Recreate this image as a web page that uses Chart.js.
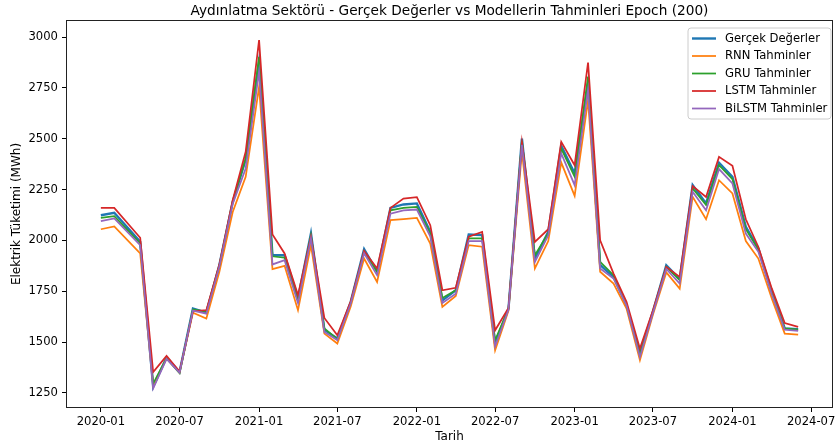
<!DOCTYPE html>
<html>
<head>
<meta charset="utf-8">
<script src="https://cdn.jsdelivr.net/npm/chart.js@4"></script>
<style>
  body { margin: 0; background: #fff; }
  canvas { display: block; }
</style>
</head>
<body>
<canvas id="chart" width="839" height="446"></canvas>
<script>
// months (note: 2020-03 is missing in the source data)
const months = [
  "2020-01","2020-02","2020-04","2020-05","2020-06","2020-07","2020-08","2020-09","2020-10","2020-11","2020-12",
  "2021-01","2021-02","2021-03","2021-04","2021-05","2021-06","2021-07","2021-08","2021-09","2021-10","2021-11","2021-12",
  "2022-01","2022-02","2022-03","2022-04","2022-05","2022-06","2022-07","2022-08","2022-09","2022-10","2022-11","2022-12",
  "2023-01","2023-02","2023-03","2023-04","2023-05","2023-06","2023-07","2023-08","2023-09","2023-10","2023-11","2023-12",
  "2024-01","2024-02","2024-03","2024-04","2024-05","2024-06"
];

const actual = [2124,2136,1993,1280,1425,1353,1665,1645,1878,2190,2398,
  2880,1927,1927,1715,2034,1560,1518,1698,1957,1846,2160,2177,
  2182,2042,1705,1755,2029,2026,1493,1665,2501,1910,2042,2465,
  2329,2772,1880,1820,1682,1443,1650,1878,1810,2272,2182,2382,
  2313,2067,1960,1748,1567,1563];

const rnn = [2055,2069,1936,1288,1420,1350,1645,1616,1845,2140,2313,
  2755,1859,1875,1657,1977,1542,1493,1675,1911,1796,2100,2105,
  2111,1985,1673,1727,1977,1969,1460,1655,2436,1862,1997,2383,
  2219,2690,1846,1788,1665,1411,1635,1843,1763,2214,2104,2296,
  2231,1997,1911,1715,1542,1537];

const gru = [2111,2119,1985,1296,1420,1348,1660,1650,1875,2190,2403,
  2903,1922,1915,1705,2025,1567,1515,1695,1945,1846,2148,2160,
  2165,2035,1717,1755,2010,2010,1509,1665,2490,1927,2035,2452,
  2313,2805,1895,1829,1682,1440,1648,1870,1805,2256,2174,2370,
  2302,2055,1955,1745,1567,1562];

const lstm = [2160,2160,2013,1353,1432,1355,1652,1657,1880,2198,2436,
  2985,2029,1936,1731,2018,1619,1534,1700,1948,1862,2160,2206,
  2213,2075,1755,1767,2018,2042,1558,1668,2482,1993,2055,2485,
  2370,2875,2001,1837,1698,1468,1655,1870,1821,2267,2214,2411,
  2367,2104,1968,1764,1594,1575];

const bilstm = [2095,2108,1977,1272,1418,1350,1655,1640,1870,2180,2354,
  2830,1882,1903,1692,2010,1550,1510,1690,1937,1829,2132,2148,
  2152,2020,1692,1738,1997,1997,1480,1660,2470,1894,2025,2428,
  2272,2740,1862,1813,1680,1427,1642,1860,1788,2239,2148,2351,
  2280,2034,1944,1735,1561,1555];

const xTickLabels = ["2020-01","2020-07","2021-01","2021-07","2022-01","2022-07","2023-01","2023-07","2024-01","2024-07"];
const yTicks = [1250,1500,1750,2000,2250,2500,2750,3000];

const seriesNames = ["Gerçek Değerler","RNN Tahminler","GRU Tahminler","LSTM Tahminler","BiLSTM Tahminler"];
const colors = ["#1f77b4","#ff7f0e","#2ca02c","#d62728","#9467bd"];
const widths = [2.4,1.75,1.75,1.75,1.75];

const FONT = "'DejaVu Sans', sans-serif";

// days since 2020-01-01
function dayNum(ym) {
  const [y, m] = ym.split("-").map(Number);
  return (Date.UTC(y, m - 1, 1) - Date.UTC(2020, 0, 1)) / 86400000;
}

const xs = months.map(dayNum);
const xTickVals = xTickLabels.map(dayNum);
const xSpan = xs[xs.length - 1] - xs[0];

const allSeries = [actual, rnn, gru, lstm, bilstm];
const datasets = allSeries.map((arr, i) => ({
  label: seriesNames[i],
  data: arr.map((v, j) => ({ x: xs[j], y: v })),
  borderColor: colors[i],
  backgroundColor: colors[i],
  borderWidth: widths[i],
  pointRadius: 0,
  tension: 0,
  order: 5 - i
}));

// frame, title, axis titles, legend
const decor = {
  id: "decor",
  afterDraw(c) {
    const ctx = c.ctx;
    const a = c.chartArea;
    ctx.save();
    ctx.strokeStyle = "#222";
    ctx.lineWidth = 1;
    ctx.strokeRect(a.left + 0.5, a.top + 0.5, a.right - a.left - 1, a.bottom - a.top - 1);

    ctx.fillStyle = "#000";
    ctx.textAlign = "center";
    ctx.textBaseline = "middle";
    ctx.font = "13.7px " + FONT;
    ctx.fillText("Aydınlatma Sektörü - Gerçek Değerler vs Modellerin Tahminleri Epoch (200)", (a.left + a.right) / 2, 11.5);

    ctx.font = "12px " + FONT;
    ctx.fillText("Tarih", (a.left + a.right) / 2, 436.5);
    ctx.save();
    ctx.translate(17, (a.top + a.bottom) / 2);
    ctx.rotate(-Math.PI / 2);
    ctx.fillText("Elektrik Tüketimi (MWh)", 0, 0);
    ctx.restore();

    // legend
    const bx = 688, by = 28, bw = 143, bh = 91, r = 3;
    ctx.beginPath();
    ctx.moveTo(bx + r, by);
    ctx.arcTo(bx + bw, by, bx + bw, by + bh, r);
    ctx.arcTo(bx + bw, by + bh, bx, by + bh, r);
    ctx.arcTo(bx, by + bh, bx, by, r);
    ctx.arcTo(bx, by, bx + bw, by, r);
    ctx.closePath();
    ctx.fillStyle = "rgba(255,255,255,0.8)";
    ctx.fill();
    ctx.strokeStyle = "#cccccc";
    ctx.lineWidth = 1;
    ctx.stroke();

    ctx.font = "11.6px " + FONT;
    ctx.textAlign = "left";
    seriesNames.forEach((name, i) => {
      const yy = 38.5 + i * 17.5;
      ctx.strokeStyle = colors[i];
      ctx.lineWidth = widths[i];
      ctx.beginPath();
      ctx.moveTo(692, yy);
      ctx.lineTo(716, yy);
      ctx.stroke();
      ctx.fillStyle = "#000";
      ctx.fillText(name, 725, yy);
    });
    ctx.restore();
  }
};

new Chart(document.getElementById("chart"), {
  type: "line",
  data: { datasets },
  options: {
    responsive: false,
    animation: false,
    devicePixelRatio: 1,
    layout: { padding: { top: 20, right: 6, left: 0, bottom: 0 } },
    plugins: { legend: { display: false }, tooltip: { enabled: false } },
    scales: {
      x: {
        type: "linear",
        min: xs[0] - xSpan * 0.05,
        max: xs[xs.length - 1] + xSpan * 0.05,
        afterFit: s => { s.height = 38; },
        afterBuildTicks: s => { s.ticks = xTickVals.map(v => ({ value: v })); },
        ticks: {
          autoSkip: false, maxRotation: 0, padding: 3, color: "#000",
          font: { family: FONT, size: 11.6 },
          callback: v => xTickLabels[xTickVals.indexOf(v)]
        },
        grid: { drawOnChartArea: false, tickLength: 4, color: "#000" },
        border: { display: false }
      },
      y: {
        min: 1176,
        max: 3084,
        afterFit: s => { s.width = 66; },
        afterBuildTicks: s => { s.ticks = yTicks.map(v => ({ value: v })); },
        ticks: {
          padding: 4, color: "#000",
          font: { family: FONT, size: 11.6 },
          callback: v => String(v)
        },
        grid: { drawOnChartArea: false, tickLength: 4, color: "#000" },
        border: { display: false }
      }
    }
  },
  plugins: [decor]
});
</script>
</body>
</html>
